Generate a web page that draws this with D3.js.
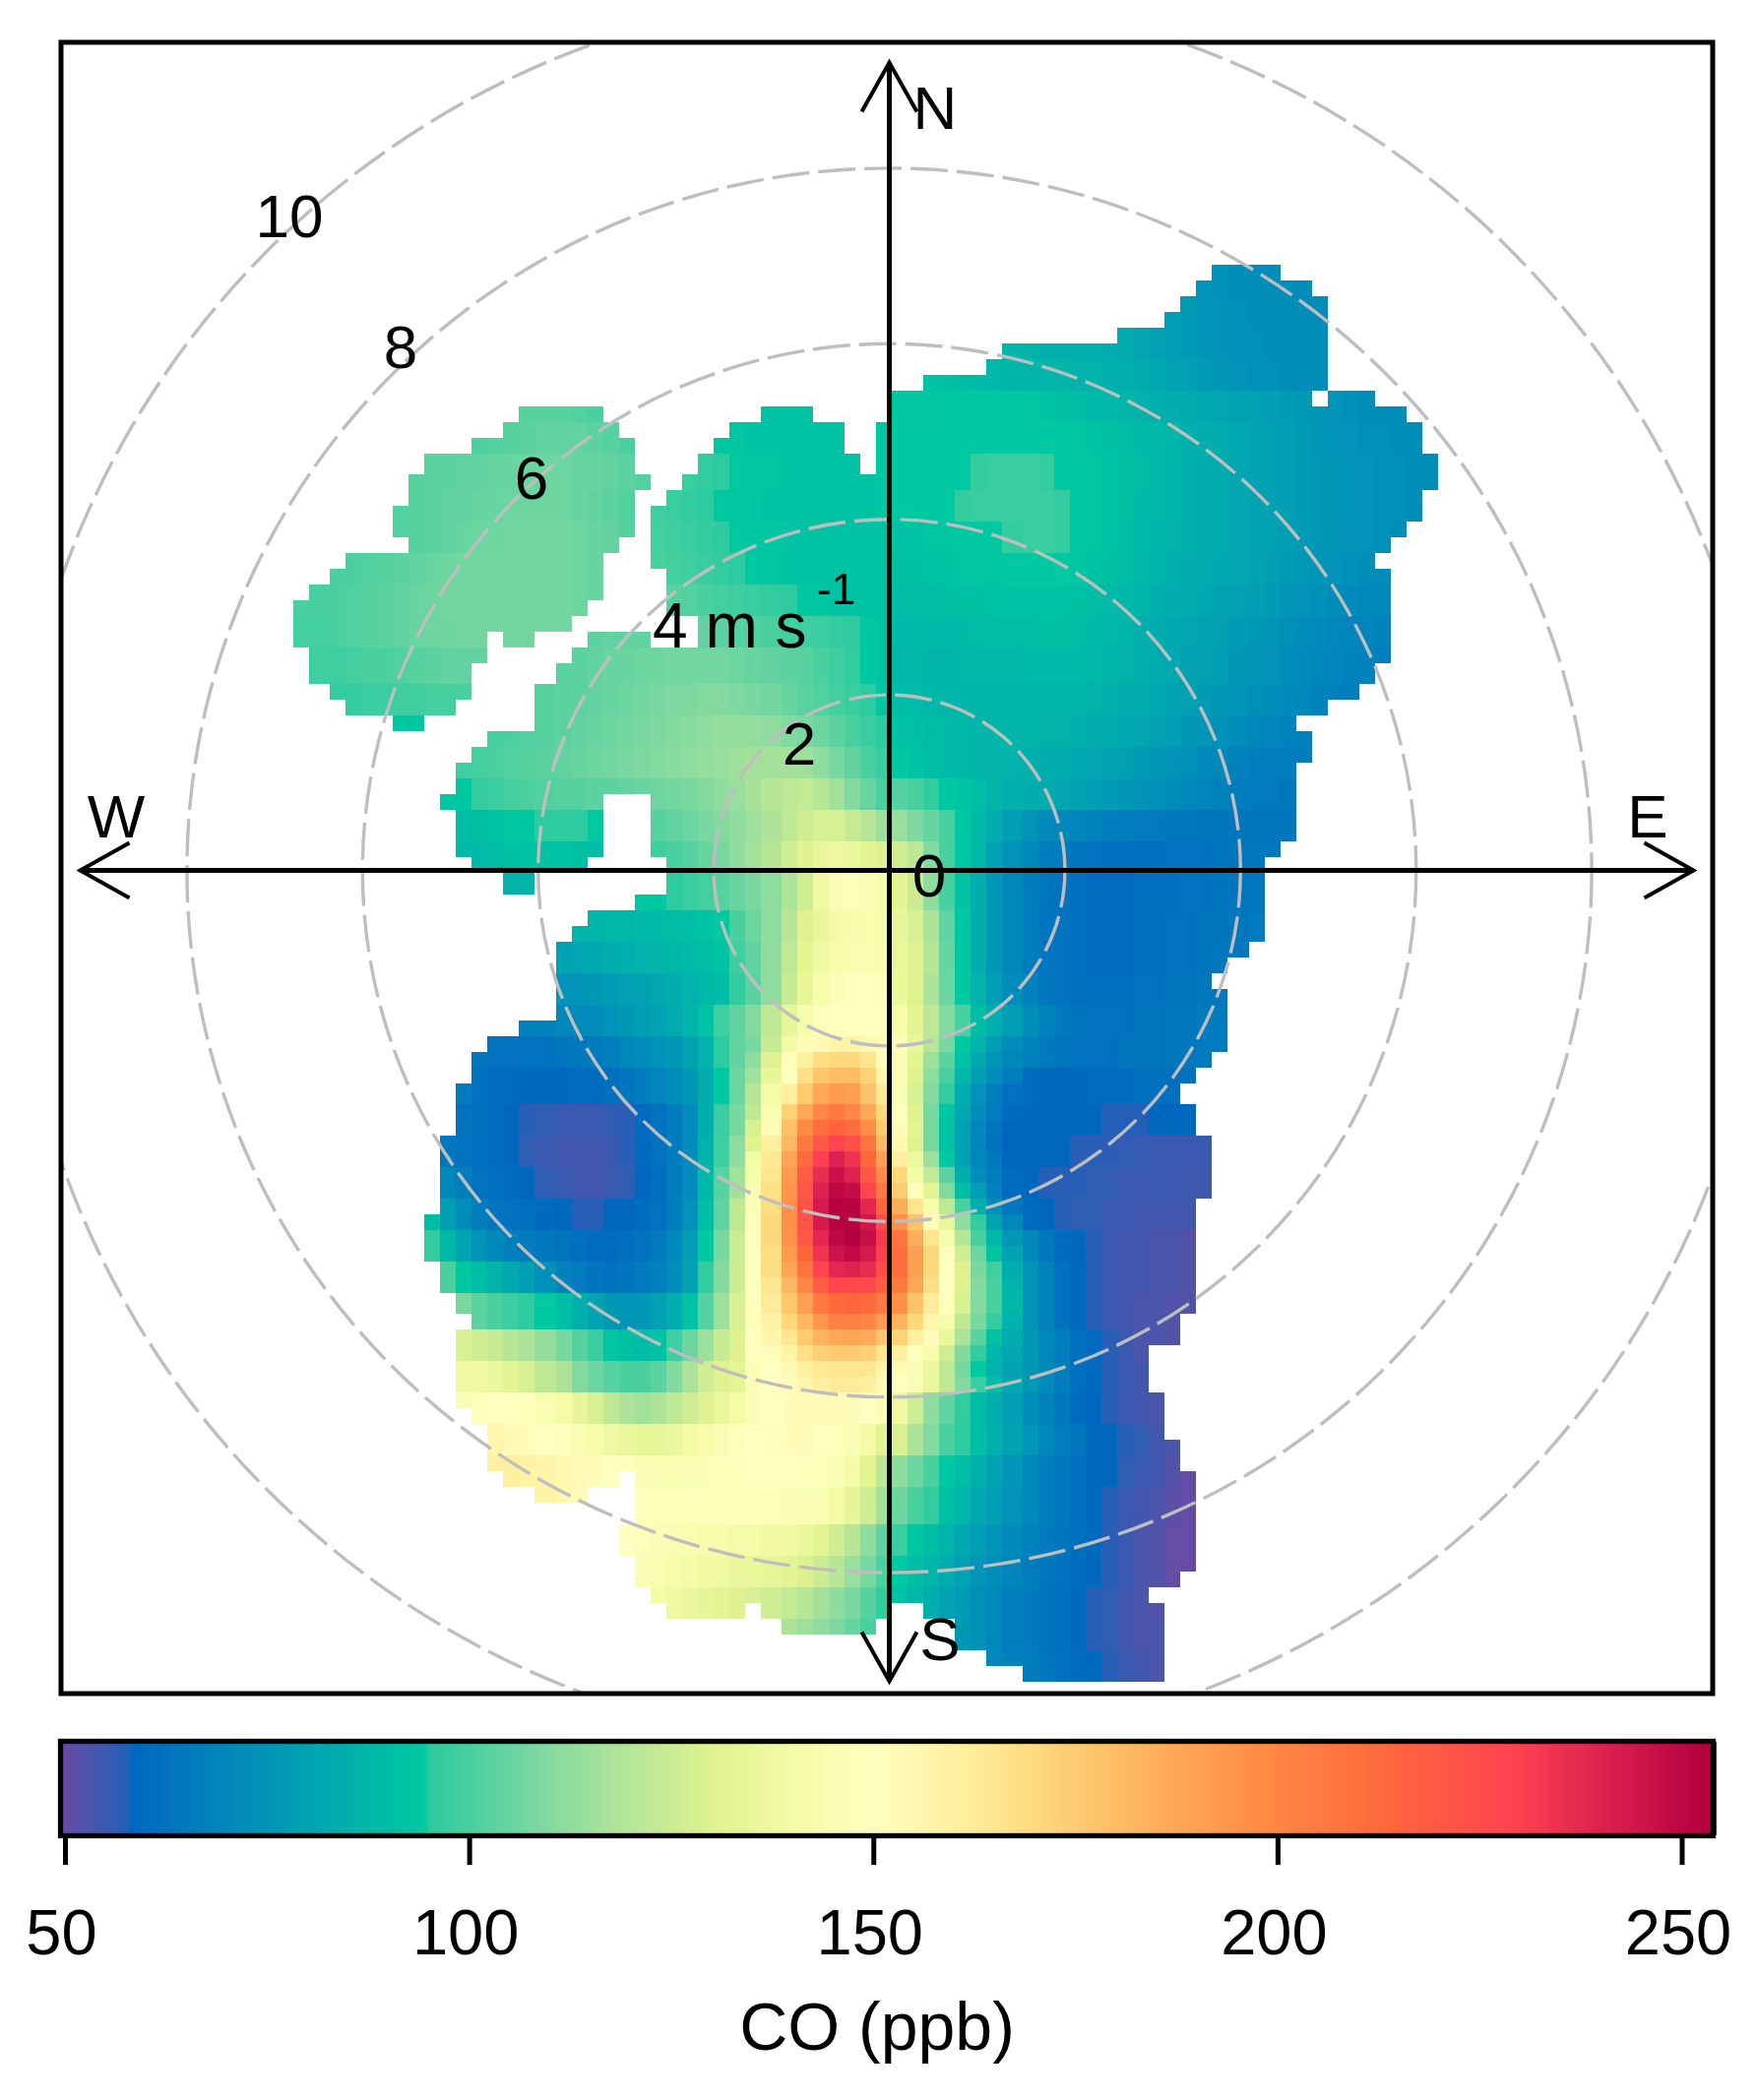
<!DOCTYPE html>
<html><head><meta charset="utf-8">
<script src="https://cdn.jsdelivr.net/npm/d3@7/dist/d3.min.js"></script>
<style>html,body{margin:0;padding:0;background:#fff}svg{display:block}text{font-family:"Liberation Sans",Arial,sans-serif;fill:#000}</style>
</head><body><div id="chart"></div>
<script>
// Legend colour ramp (ppb -> colour)
const colourValues=[49.5,53,57.9,58,68,80,94.3,95,109,120,130,140,150,160,170,185,198,214,229,240,253];
const colourStops=["#6a4aa5","#4a55ab","#2060b8","#0067bf","#0182bd","#01a3b2","#00c9a0","#2dcb9f","#7fd8a0","#b7e697","#dff28f","#f3fba5","#ffffbf","#fff0a0","#fed97c","#feae5b","#ff8a45","#ff663c","#fe4350","#dd2150","#b40040"];
const legendTicks=[50,100,150,200,250];
const ringSpeeds=[2,4,6,8,10];
const firstRow=-52;
// Filled column runs [from,to) for each grid row, top to bottom
const filledRuns=[
[[20,24]],[[19,26]],[[18,27]],[[17,27]],[[14,27]],[[7,27]],[[6,27]],[[2,27]],[[0,26],[27,30]],
[[-23,-18],[-8,-5],[0,32]],[[-24,-17],[-10,-3],[-1,33]],[[-26,-16],[-11,-3],[-1,33]],[[-29,-16],[-12,-2],[-1,34]],
[[-30,-15],[-13,34]],[[-30,-16],[-14,33]],[[-31,-16],[-15,33]],[[-31,-16],[-15,32]],[[-30,-17],[-15,31]],
[[-34,-18],[-15,30]],[[-35,-18],[-14,31]],[[-36,-18],[-14,31]],[[-37,-19],[-14,31]],[[-37,-20],[-12,31]],
[[-37,-25],[-24,-22],[-19,-15],[-12,31]],[[-36,-25],[-20,31]],[[-36,-26],[-21,30]],[[-35,-26],[-22,29]],
[[-34,-27],[-22,27]],[[-31,-29],[-22,25]],[[-25,26]],[[-26,26]],[[-27,25]],[[-27,25]],[[-28,-18],[-15,25]],
[[-27,-18],[-15,25]],[[-27,-18],[-15,25]],[[-27,-18],[-15,24]],[[-26,-19],[-14,23]],[[-24,-22],[-14,23]],
[[-16,23]],[[-19,23]],[[-20,23]],[[-21,22]],[[-21,21]],[[-21,20]],[[-21,21]],[[-21,21]],[[-23,21]],[[-25,21]],
[[-26,20]],[[-26,19]],[[-27,18]],[[-27,19]],[[-27,19]],[[-28,20]],[[-28,20]],[[-28,20]],[[-28,20]],[[-28,19]],
[[-29,19]],[[-29,19]],[[-29,19]],[[-28,19]],[[-28,19]],[[-27,19]],[[-26,18]],[[-27,18]],[[-27,16]],[[-27,16]],[[-27,16]],
[[-27,17]],[[-26,17]],[[-25,17]],[[-25,18]],[[-25,18]],[[-24,-17],[-16,19]],[[-22,-19],[-16,19]],[[-16,19]],[[-17,19]],[[-17,19]],
[[-16,19]],[[-16,18]],[[-15,16]],[[-14,-9],[-8,0],[2,17]],[[-7,-1],[4,17]],[[4,17]],[[6,17]],[[8,17]]];
// CO (ppb): each entry covers two grid rows; segments are [first column, values]
const coRows=[
[[19,[74,73,72,72,72,72,72]]],
[[17,[78,77,75,74,73,72,72,72,72,72]]],
[[7,[87,86,85,85,85,85,84,83,81,79,78,77,75,74,73,73,72,72,72,72]]],
[[2,[92,91,90,89,88,87,87,87,87,86,86,85,85,83,82,80,79,77,76,74,73,73,72,72,72]]],
[[-23,[102,102,102,101,100]],[-8,[92,92,92]],[0,[93,93,93,93,94,94,94,94,93,92,91,90,89,88,87,86,85,84,83,82,81,80,79,78,77,76,75,74,73,72,72,72]]],
[[-26,[100,101,102,103,104,104,104,103,102,100]],[-11,[93,93,92,92,92,92,92,92]],[-1,[93]],[0,[94,94,94,94,94,94,94,94,94,94,94,93,92,91,90,89,88,87,85,84,83,82,80,79,78,77,75,75,74,73,73,72,72]]],
[[-30,[102,103,103,104,104,105,105,106,106,106,105,105,104,103,101]],[-13,[97,96,95,94,93,93,92,92,92,92,92,92,93]],[0,[94,94,94,94,94,96,97,97,97,96,94,94,93,92,91,90,88,87,85,84,83,81,80,79,78,77,76,75,75,74,73,73,72,72]]],
[[-31,[101,102,103,104,104,105,105,106,106,106,106,105,104,103,101]],[-15,[98,97,96,95,94,93,93,92,92,92,92,92,92,92,93]],[0,[94,94,94,94,96,97,97,97,97,97,96,94,93,92,91,89,88,87,85,84,83,81,80,79,78,77,76,75,75,74,73,73,72]]],
[[-31,[101,102,103,104,105,106,106,107,107,107,107,106,105,104,102]],[-15,[99,98,97,96,95,94,93,93,92,92,92,92,92,92,92]],[0,[92,92,93,93,94,94,94,96,97,97,96,94,93,92,90,89,87,86,85,84,83,81,80,79,78,77,76,75,74,74,73,72]]],
[[-35,[100,100,101,102,103,104,105,106,107,107,107,107,107,107,107,106,105,103]],[-15,[100,99,98,97,96,95,94,93,92,92,92,92,92,92,92]],[0,[91,91,92,92,93,93,93,94,94,94,94,93,92,91,90,88,87,85,84,83,82,81,80,78,77,76,75,74,73,72,71]]],
[[-37,[100,100,100,101,102,103,104,105,106,107,107,107,107,107,107,107,107,106,105]],[-14,[102,101,100,99,98,97,96,95,94,93,92,92,92,92]],[0,[90,90,90,91,91,91,92,92,92,92,92,91,90,89,88,87,85,84,83,82,80,79,78,77,75,74,73,72,71,70,70]]],
[[-37,[99,99,100,101,102,103,104,105,106,106,107,107,107,107,107,107,107,106]],[-19,[103,104,104,104]],[-12,[104,103,102,101,100,99,98,97,96,95,94,92]],[0,[89,89,89,89,89,90,90,90,90,91,91,90,89,88,87,85,84,82,81,80,79,77,76,75,73,72,71,70,69,69,68]]],
[[-36,[98,98,99,100,100,101,102,103,104,104,104]],[-21,[103,103,104,105,105,106,106,107,107,107,107,106,105,104,103,102,100,98,96,94,92]],[0,[88,88,87,87,88,88,88,88,89,89,89,89,88,87,86,85,83,82,80,79,78,76,75,74,72,71,70,69,68,68,67]]],
[[-35,[96,96,97,97,98,98,99,99,100]],[-22,[102,103,103,104,105,106,107,108,109,109,110,110,109,108,107,105,103,101,99,97,95,93]],[0,[90,89,88,87,87,87,87,87,87,87,87,87,86,85,84,83,82,80,79,77,76,75,73,72,71,70,68,67,66]]],
[[-31,[94,94]],[-25,[99,100,101,102,103,104,105,106,107,108,109,110,111,112,113,113,113,112,110,108,106,103,100,97,95]],[0,[92,91,90,89,88,87,87,87,87,86,86,85,84,83,82,81,79,78,76,75,73,72,70,69,68,67]]],
[[-27,[98,99,100,101,102,103,104,105,106,107,108,109,110,111,112,113,114,115,116,116,116,115,112,108,104,100,97]],[0,[94,92,90,89,88,87,86,86,85,84,83,82,81,80,79,77,76,74,73,71,70,68,67,66,66,65]]],
[[-28,[93,94,96,97,99,100,101,102,102,103,103,104,105,106,107,108,110,112,114,117,120,122,123,120,116,110,105,100]],[0,[102,100,96,94,92,90,87,85,84,83,81,80,78,77,76,74,73,72,70,69,68,66,65,65,64]]],
[[-27,[90,91,92,93,94,95,95,95,94]],[-15,[102,104,106,108,110,112,115,118,122,126,128,128,124,120,115]],[0,[114,109,105,100,94,88,83,78,74,71,70,69,68,67,66,65,65,64,64,63,63,63,63,63,63]]],
[[-27,[88,89,90,91,92,92,92,91,90]],[-15,[98,100,102,105,108,112,116,120,126,131,135,137,136,132,130]],[0,[126,122,110,100,94,88,80,74,70,67,65,63,62,61,61,61,61,62,62,62,63,63,64]]],
[[-24,[86,86]],[-16,[93,94,95,97,99,102,105,108,112,118,126,138,146,148,146,142]],[0,[132,125,112,100,92,84,76,70,66,64,62,61,60,60,60,61,61,61,62,62,63,63,64]]],
[[-20,[86,87,88,88,89,89,90,91,92,94,100,106,112,120,130,136,140,143,144,142]],[0,[134,128,118,104,94,84,76,70,66,63,62,61,60,60,60,61,61,62,62,63,63,64,65]]],
[[-21,[80,81,82,84,85,86,87,88,89,90,92,98,104,112,122,132,138,142,144,145,143]],[0,[135,130,120,105,94,84,76,70,66,63,62,61,60,60,60,61,61,62,62,63,64,64]]],
[[-21,[74,75,76,77,79,80,82,84,86,88,90,96,103,112,124,134,142,146,149,150,148]],[0,[136,130,118,106,94,86,78,72,68,64,62,61,61,61,61,62,62,63,63,64,64]]],
[[-23,[68,68,70,71,72,74,76,78,80,83,87,92,98,104,110,122,134,142,148,150,150,150,150]],[0,[142,132,122,110,100,90,84,78,72,68,65,63,62,62,62,63,63,64,64,65,65]]],
[[-26,[64,62,62,62,62,63,64,65,67,70,72,74,76,80,86,95,104,112,128,146,156,164,167,167,163,155]],[0,[146,132,117,104,92,84,76,72,68,65,63,62,62,62,63,63,63,64,64,65,65]]],
[[-27,[66,62,60,60,59,59,59,60,60,61,63,66,69,72,76,84,94,106,118,136,152,170,183,188,186,176,160]],[0,[145,128,112,98,88,77,70,64,60,59,59,59,60,60,60,61,61,61,62]]],
[[-27,[62,61,60,58,57,56,55,55,55,56,57,59,62,66,72,84,97,108,122,145,172,190,207,212,208,190,172]],[0,[150,130,110,94,83,74,66,60,59,58.5,58.5,58,58,57.5,57.5,57.5,58,58,58]]],
[[-28,[64,62,61,60,58,56,55,54,54,54,55,57,59,62,66,72,86,98,112,128,155,183,208,228,238,232,212,185]],[0,[158,133,112,95,84,74,66,60,58.5,58,58,57,57,56.5,56,55.5,55,55,55,55]]],
[[-28,[70,66,62,61,60,58,56,55,54,54,55,56,58,61,65,72,88,102,116,140,163,192,220,240,250,245,228,205]],[0,[172,148,128,104,88,76,68,60,58,57.5,57,57,56,56,55,55,55,55,54.5,54.5]]],
[[-29,[90,78,72,66,63,62,61,59,58,57,57,58,58,60,62,67,74,90,104,122,145,167,195,222,243,252,252,240,218]],[0,[190,165,146,125,103,88,76,66,60,58,57,56,56,55,55,54,54,54,54]]],
[[-29,[96,88,80,74,70,67,65,64,62,61,60,60,61,62,65,70,78,94,108,125,146,168,192,216,236,246,250,242,225]],[0,[208,185,164,145,124,102,90,78,70,64,60,58,57,55,54,54,53,53,52]]],
[[-28,[100,94,90,86,82,78,73,68,65,63,62,63,65,68,72,80,96,110,125,147,165,183,202,222,230,232,226,218]],[0,[205,188,168,148,128,110,98,84,74,68,62,59,57,55,54,54,53,53,52]]],
[[-27,[108,103,100,97,95,94,90,85,80,76,75,76,79,84,92,102,115,128,148,160,172,186,200,208,208,206,200]],[0,[190,176,160,145,126,112,96,85,74,68,62,59,57,55,54,53,53,52,52]]],
[[-27,[128,126,124,120,118,113,108,102,97,93,91,90,92,98,106,115,124,130,148,154,162,170,178,180,181,180,172]],[0,[165,158,148,136,118,104,92,84,76,70,66,61,59,57,55,53,53,52]]],
[[-27,[138,138,136,132,128,122,118,110,106,102,100,100,103,110,118,126,130,133,146,150,152,156,160,162,162,160,154]],[0,[150,146,136,122,110,97,90,82,76,71,66,61,59,57,55,54]]],
[[-27,[146,148,150,150,148,144,140,134,128,122,118,116,118,122,126,130,135,140,146,150,152,152,153,153,152,150,146]],[0,[138,126,112,104,96,90,84,78,72,68,64,60,58,57,55,54,53]]],
[[-26,[154,156,154,152,150,148,145,142,138,135,134,134,136,140,143,146,148,150,151,152,152,150,148,146,140,132]],[0,[128,118,110,100,95,90,85,80,75,70,66,63,59,58,57,56,54,53]]],
[[-25,[160,160,158,157,155,153,152,150,148,146,145,145,146,147,148,149,150,150,150,149,148,146,140,132,122]],[0,[112,106,100,94,90,85,80,75,70,67,64,61,59,58,56,55,54,52,50]]],
[[-22,[158,155,152]],[-16,[148,148,148,148,148,148,148,148,148,147,146,144,140,134,126,116]],[0,[106,100,96,91,87,82,78,74,70,67,64,61,59,57,55,54,53,51,50]]],
[[-17,[150,148,146,145,144,143,142,141,140,139,138,136,132,126,120,112,104]],[0,[97,93,90,86,82,78,74,71,68,65,63,61,59,57,55,53,52,50,50]]],
[[-17,[148,146,144,142,140,139,138,136,135,134,132,129,125,120,114,108,100]],[0,[94,90,87,83,79,75,72,69,66,64,62,60,58,57,55,53,52,50,49.6]]],
[[-16,[142,140,138,136,134,132,130,128,126,123,120,116,112,108,102,96]],[0,[92,88,84,80,77,73,70,67,65,63,61,59,57,56,54,53,52,51]]],
[[-14,[134,132,130,128,126,124,122,118,115,112,109,105,100,96]],[0,[90,88,84,80,76,73,70,67,65,63,61,59,57,56,54,53,53]]],
[[2,[76,75,74,72,70,68,66,64,62,60,59,57,55,54,53]]]
];
// Plume core, read row by row: grid rows -4..16, columns -9..7
const plumeFirstRow=-4, plumeFirstCol=-9;
const coPlume=[
[108,124,140,152,154,158,158,155,152,148,135,120,108,94,86,78,72],
[112,130,148,160,168,170,170,165,152,146,132,115,103,92,82,74,70],
[116,134,150,167,177,180,180,172,156,146,130,112,100,88,78,72,66],
[120,140,160,175,187,192,190,178,163,146,128,110,96,84,74,67,62],
[122,145,172,187,200,205,200,187,170,150,130,108,93,82,72,65,60],
[128,152,178,198,210,215,211,197,175,152,132,108,92,80,70,63,58],
[130,160,182,205,220,228,224,208,182,155,130,108,92,80,69,62,58],
[140,163,188,212,230,240,234,214,190,160,137,115,94,80,70,64,58],
[142,165,192,218,236,246,240,220,198,170,140,123,103,84,72,66,60],
[145,167,194,220,240,250,248,228,206,175,148,132,110,90,78,68,60],
[147,168,196,222,243,252,252,238,215,185,165,142,122,100,85,72,63],
[148,170,196,222,243,252,252,244,225,195,178,152,135,112,96,80,70],
[148,170,195,220,238,250,253,247,232,208,185,165,142,120,100,88,76],
[148,168,192,214,234,245,249,243,230,210,190,170,148,126,106,92,80],
[148,168,188,208,228,238,240,236,225,210,190,170,150,130,108,98,84],
[148,164,182,200,218,228,226,226,218,205,188,168,150,130,110,100,86],
[148,162,176,190,205,212,214,212,205,196,178,162,148,128,110,100,88],
[148,158,170,182,193,202,203,200,192,183,170,156,143,122,108,96,86],
[148,156,164,175,183,187,188,186,177,172,160,152,135,118,103,92,84],
[148,152,158,167,173,175,175,173,165,160,150,143,126,110,96,88,82],
[147,150,154,160,163,165,165,164,157,152,146,136,122,108,94,86,80]
];

const W=1784,H=2134;
const colour=d3.scaleLinear().domain(colourValues).range(colourStops).clamp(true);
const svg=d3.select("#chart").append("svg").attr("width",W).attr("height",H);
const cx=903.5, cy=884.5;
const radius=d3.scaleLinear().domain([0,10]).range([0,892]);
const px=5.3333;
const xEdge=k=>906+px*Math.round(k*3.0714);
const yEdge=j=>1122+px*Math.floor(j*3.0769+0.01);
function valueAt(j,k){
  const pr=coPlume[j-plumeFirstRow];
  if(pr && k>=plumeFirstCol && k-plumeFirstCol<pr.length) return pr[k-plumeFirstCol];
  const segs=coRows[Math.floor((j-firstRow)/2)];
  if(!segs) return null;
  let seg=null;
  for(const s of segs){ if(k>=s[0]) seg=s; }
  if(!seg) seg=segs[0];
  const i=Math.max(0,Math.min(k-seg[0],seg[1].length-1));
  return seg[1][i];
}
const cells=[];
filledRuns.forEach((runs,r)=>{
  const j=r+firstRow;
  runs.forEach(([a,b])=>{ for(let k=a;k<b;k++){ cells.push({j,k,v:valueAt(j,k)}); } });
});
svg.append("clipPath").attr("id","frameClip").append("rect").attr("x",62).attr("y",43).attr("width",1678).attr("height",1678);
const plot=svg.append("g").attr("clip-path","url(#frameClip)");
plot.append("g").attr("shape-rendering","crispEdges").selectAll("rect").data(cells).join("rect")
  .attr("x",d=>xEdge(d.k)).attr("y",d=>yEdge(d.j))
  .attr("width",d=>xEdge(d.k+1)-xEdge(d.k)).attr("height",d=>yEdge(d.j+1)-yEdge(d.j))
  .attr("fill",d=>colour(d.v));
plot.append("g").selectAll("circle").data(ringSpeeds).join("circle")
  .attr("cx",cx).attr("cy",cy).attr("r",d=>radius(d)).attr("fill","none")
  .attr("stroke","#bebebe").attr("stroke-width",3.4).attr("stroke-dasharray","38 9");
// compass axes
const ax=plot.append("g").attr("stroke","#000").attr("fill","none").attr("stroke-width",5);
const arms=[["N",0,-1,821],["S",0,1,824],["W",-1,0,822],["E",1,0,817]];
ax.append("line").attr("x1",cx-822).attr("x2",cx+817).attr("y1",cy).attr("y2",cy);
ax.append("line").attr("x1",cx).attr("x2",cx).attr("y1",cy-821).attr("y2",cy+824);
arms.forEach(([n,dx,dy,l])=>{
  const tx=cx+dx*l, ty=cy+dy*l, bx=cx+dx*(l-50), by=cy+dy*(l-50);
  ax.append("path").attr("stroke-width",4).attr("d",d3.line()([[bx+dy*28,by+dx*28],[tx,ty],[bx-dy*28,by-dx*28]]));
});
const lab=svg.append("g").attr("font-size",62);
[["N",950,131],["S",955,1687],["W",118,851],["E",1674,851],["0",944,911],["2",812,777],["6",540,507],["8",407,374],["10",294,241]]
 .forEach(([t,x,y])=>lab.append("text").attr("x",x).attr("y",y).attr("text-anchor","middle").text(t));
lab.append("text").attr("x",663).attr("y",658).attr("font-size",64).text("4 m s");
lab.append("text").attr("x",830).attr("y",614).attr("font-size",44).text("-1");
svg.append("rect").attr("x",62).attr("y",43).attr("width",1678).attr("height",1678).attr("fill","none").attr("stroke","#000").attr("stroke-width",5);

// colour key
const keyX=d3.scaleLinear().domain([50,250]).range([66,1708.5]);
const keyVals=d3.range(49.5,254.25,0.25);
svg.append("g").attr("shape-rendering","crispEdges").selectAll("rect").data(keyVals).join("rect")
  .attr("x",d=>keyX(d)).attr("y",1770).attr("width",3).attr("height",95).attr("fill",d=>colour(d));
svg.append("rect").attr("x",61.5).attr("y",1769.5).attr("width",1679).attr("height",96).attr("fill","none").attr("stroke","#000").attr("stroke-width",5.3);
const axisG=svg.append("g").attr("transform","translate(0,1866)").call(d3.axisBottom(keyX).tickValues(legendTicks).tickSize(29).tickPadding(0).tickFormat(d3.format("d")));
axisG.select(".domain").remove();
axisG.selectAll("line").attr("stroke","#000").attr("stroke-width",5);
axisG.selectAll("text").attr("font-size",65).attr("font-family","Liberation Sans").attr("y",119.5).attr("dy",0).attr("dx",-4).attr("fill","#000");
svg.append("text").attr("x",891).attr("y",2083).attr("text-anchor","middle").attr("font-size",68).text("CO (ppb)");
</script></body></html>
